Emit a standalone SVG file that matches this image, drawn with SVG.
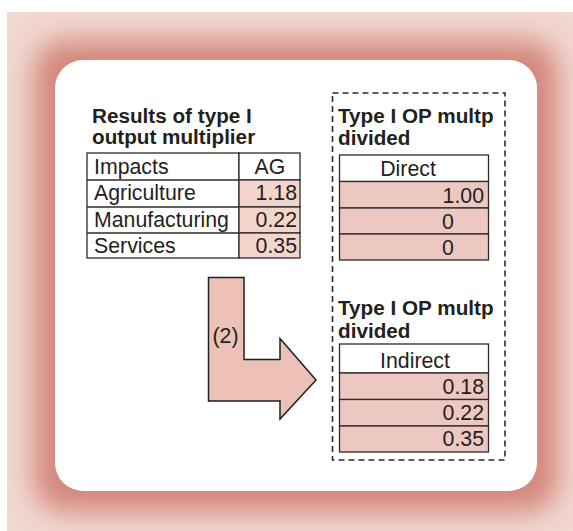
<svg xmlns="http://www.w3.org/2000/svg" width="573" height="531" viewBox="0 0 573 531">
  <defs>
    <filter id="glow" filterUnits="userSpaceOnUse" x="0" y="0" width="573" height="531">
      <feGaussianBlur stdDeviation="14"/>
    </filter>
    <clipPath id="frameClip">
      <rect x="7" y="12" width="566" height="519"/>
    </clipPath>
    <style>
      .title { font-family: "Liberation Sans", Arial, sans-serif; font-weight: bold; font-size: 20.7px; fill: #231f20; }
      .cell  { font-family: "Liberation Sans", Arial, sans-serif; font-size: 21.3px; fill: #231f20; }
      .grid  { stroke: #2b2b2b; stroke-width: 1.3; }
      .blank { fill: #ffffff; }
      .pinkL { fill: #f3d5cc; }
      .pinkR { fill: #edc8c0; }
      .dash  { fill: none; stroke: #2b2b2b; stroke-width: 1.6; stroke-dasharray: 6 4; }
    </style>
  </defs>

  <!-- framed background with soft red halo around the card -->
  <rect x="7" y="12" width="566" height="519" fill="#f1d8d1"/>
  <g clip-path="url(#frameClip)">
    <rect x="34" y="40" width="524" height="472" rx="30" fill="#d4867a" filter="url(#glow)"/>
  </g>
  <rect x="55" y="60" width="482" height="431" rx="28" fill="#ffffff"/>

  <!-- left table: type I output multiplier results -->
  <g id="results-table">
    <text class="title" x="92" y="122.5">Results of type I</text>
    <text class="title" x="92" y="143.5">output multiplier</text>
    <rect class="blank grid" x="87" y="153" width="152" height="105"/>
    <rect class="blank grid" x="239" y="153" width="61" height="27"/>
    <rect class="pinkL grid" x="239" y="180" width="61" height="27"/>
    <rect class="pinkL grid" x="239" y="207" width="61" height="26"/>
    <rect class="pinkL grid" x="239" y="233" width="61" height="25"/>
    <line class="grid" x1="87" y1="180" x2="239" y2="180"/>
    <line class="grid" x1="87" y1="207" x2="239" y2="207"/>
    <line class="grid" x1="87" y1="233" x2="239" y2="233"/>
    <text class="cell" x="94" y="173.5">Impacts</text>
    <text class="cell" x="94" y="200">Agriculture</text>
    <text class="cell" x="94" y="226.5">Manufacturing</text>
    <text class="cell" x="94" y="252.5">Services</text>
    <text class="cell" x="270" y="173.5" text-anchor="middle">AG</text>
    <text class="cell" x="297" y="200" text-anchor="end">1.18</text>
    <text class="cell" x="297" y="226.5" text-anchor="end">0.22</text>
    <text class="cell" x="297" y="252.5" text-anchor="end">0.35</text>
  </g>

  <!-- dashed container for the divided multipliers -->
  <g id="divided-box">
    <rect class="dash" x="332.5" y="93" width="172.5" height="367"/>
  </g>

  <!-- direct part -->
  <g id="direct-table">
    <text class="title" x="338" y="123">Type I OP multp</text>
    <text class="title" x="338" y="144.5">divided</text>
    <rect class="blank grid" x="339.5" y="155" width="149" height="26.5"/>
    <rect class="pinkR grid" x="339.5" y="181.5" width="149" height="26.5"/>
    <rect class="pinkR grid" x="339.5" y="208" width="149" height="26"/>
    <rect class="pinkR grid" x="339.5" y="234" width="149" height="26"/>
    <text class="cell" x="408" y="176" text-anchor="middle">Direct</text>
    <text class="cell" x="484" y="202.5" text-anchor="end">1.00</text>
    <text class="cell" x="448" y="229" text-anchor="middle">0</text>
    <text class="cell" x="448" y="255" text-anchor="middle">0</text>
  </g>

  <!-- indirect part -->
  <g id="indirect-table">
    <text class="title" x="338" y="315">Type I OP multp</text>
    <text class="title" x="338" y="337.5">divided</text>
    <rect class="blank grid" x="339.5" y="344" width="149" height="29"/>
    <rect class="pinkR grid" x="339.5" y="373" width="149" height="26.5"/>
    <rect class="pinkR grid" x="339.5" y="399.5" width="149" height="26.5"/>
    <rect class="pinkR grid" x="339.5" y="426" width="149" height="26"/>
    <text class="cell" x="415" y="368" text-anchor="middle">Indirect</text>
    <text class="cell" x="484" y="394" text-anchor="end">0.18</text>
    <text class="cell" x="484" y="420" text-anchor="end">0.22</text>
    <text class="cell" x="484" y="446" text-anchor="end">0.35</text>
  </g>

  <!-- bent arrow from the results to the indirect part -->
  <g id="connectors">
    <g id="step-2-arrow">
      <path d="M208.5 277.5 H244 V359.5 H280 V338.5 L316 380 L280 419 V401 H208.5 Z"
            fill="#ebc1b8" stroke="#1f1f1f" stroke-width="1.5" stroke-linejoin="miter"/>
      <text class="cell" x="225.5" y="343" text-anchor="middle" font-size="19">(2)</text>
    </g>
  </g>
</svg>
